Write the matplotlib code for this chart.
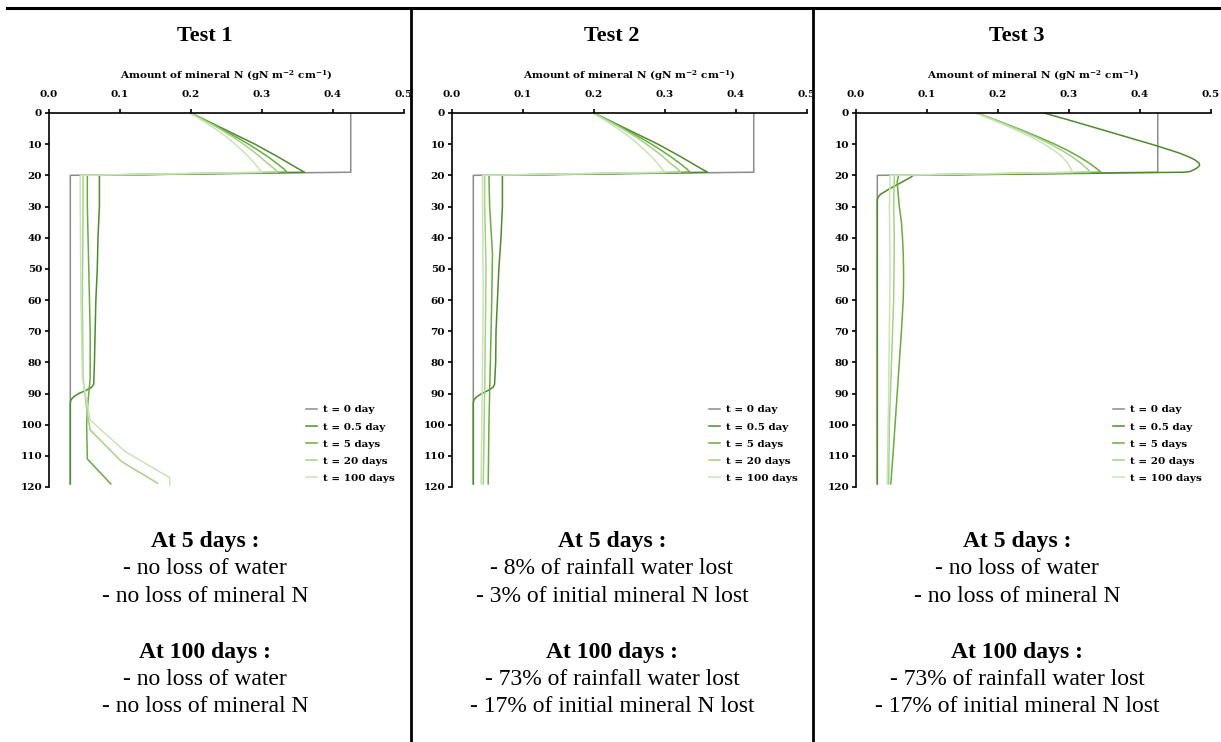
import numpy as np
import matplotlib
matplotlib.use('Agg')
import matplotlib.pyplot as plt
from matplotlib.lines import Line2D
from matplotlib.transforms import Bbox, TransformedBbox

plt.rcParams['font.family'] = ['Liberation Serif', 'DejaVu Serif']
plt.rcParams['mathtext.fontset'] = 'custom'
plt.rcParams['mathtext.rm'] = 'DejaVu Serif:bold'
plt.rcParams['mathtext.it'] = 'DejaVu Serif:bold'
plt.rcParams['mathtext.bf'] = 'DejaVu Serif:bold'

# ---- data (depth in cm, amount in gN m-2 cm-1) ----
labels = ['t = 0 day', 't = 0.5 day', 't = 5 days', 't = 20 days', 't = 100 days']
colors = ['#8c8c8c', '#4f8a2f', '#6aab40', '#a6d189', '#c9e4b7']

t0_depth = [0, 19, 20, 119]
t0_value = [0.425, 0.425, 0.03, 0.03]

top_depth = [0, 2, 4, 6, 8, 10, 12, 14, 16, 18, 19]
# tests 1 and 2: top layer
top_05 = [0.200, 0.218, 0.236, 0.254, 0.272, 0.290, 0.306, 0.322, 0.337, 0.352, 0.360]
top_5 = [0.200, 0.217, 0.234, 0.250, 0.266, 0.281, 0.295, 0.308, 0.320, 0.331, 0.335]
top_20 = [0.200, 0.216, 0.232, 0.247, 0.261, 0.274, 0.286, 0.297, 0.307, 0.318, 0.322]
top_100 = [0.198, 0.213, 0.227, 0.240, 0.252, 0.262, 0.272, 0.281, 0.289, 0.296, 0.300]

# test 1: lower layer
t1_05_depth = [20, 30, 40, 50, 60, 70, 80, 87, 88, 89, 90, 91, 92, 93, 119]
t1_05_value = [0.071, 0.071, 0.069, 0.068, 0.066, 0.065, 0.064, 0.063, 0.060, 0.052,
               0.042, 0.035, 0.031, 0.030, 0.030]
t1_5_depth = [20, 30, 50, 70, 85, 90, 95, 100, 111, 119]
t1_5_value = [0.054, 0.054, 0.056, 0.058, 0.058, 0.056, 0.054, 0.053, 0.054, 0.087]
t1_20_depth = [20, 30, 60, 85, 95, 101.7, 111.8, 118.8]
t1_20_value = [0.048, 0.048, 0.047, 0.048, 0.053, 0.058, 0.102, 0.153]
t1_100_depth = [20, 30, 60, 85, 98.5, 108.6, 113.4, 117, 119.4]
t1_100_value = [0.044, 0.044, 0.045, 0.047, 0.058, 0.107, 0.143, 0.170, 0.170]

# test 2: lower layer
t2_05_depth = [20, 30, 40, 50, 60, 70, 80, 87, 88, 89, 90, 91, 92, 93, 119]
t2_05_value = [0.071, 0.071, 0.069, 0.066, 0.064, 0.062, 0.0615, 0.060, 0.058, 0.051,
               0.042, 0.035, 0.031, 0.030, 0.030]
t2_5_depth = [20, 30, 45, 60, 80, 100, 119]
t2_5_value = [0.052, 0.053, 0.057, 0.056, 0.054, 0.052, 0.051]
t2_20_depth = [20, 30, 50, 90, 119]
t2_20_value = [0.046, 0.046, 0.048, 0.046, 0.044]
t2_100_depth = [20, 30, 60, 119]
t2_100_value = [0.043, 0.043, 0.044, 0.041]

# test 3: top layer
t3_05_top_depth = [0, 1, 2, 3, 4, 5, 6, 7, 8, 9, 10, 11, 12, 13, 14, 15, 16, 16.8,
                   17.5, 18.2, 18.8, 19]
t3_05_top_value = [0.265, 0.280, 0.296, 0.311, 0.326, 0.341, 0.356, 0.371, 0.386, 0.401,
                   0.416, 0.430, 0.444, 0.457, 0.468, 0.477, 0.483, 0.484, 0.481, 0.476,
                   0.470, 0.462]
t3_top_5 = [0.170, 0.194, 0.217, 0.239, 0.260, 0.280, 0.298, 0.314, 0.328, 0.340, 0.345]
t3_top_20 = [0.170, 0.193, 0.215, 0.236, 0.256, 0.274, 0.290, 0.304, 0.316, 0.326, 0.330]
t3_top_100 = [0.168, 0.190, 0.211, 0.231, 0.249, 0.265, 0.279, 0.290, 0.298, 0.303, 0.305]

# test 3: lower layer
t3_05_depth = [20, 20.5, 21.5, 23, 24.5, 26, 27, 28, 119]
t3_05_value = [0.080, 0.078, 0.070, 0.058, 0.046, 0.035, 0.031, 0.030, 0.030]
t3_5_depth = [20, 22, 25, 30, 35, 40, 45, 50, 55, 60, 70, 80, 90, 100, 110, 119]
t3_5_value = [0.060, 0.058, 0.059, 0.061, 0.064, 0.0655, 0.0665, 0.067, 0.067, 0.0665,
              0.064, 0.061, 0.058, 0.055, 0.052, 0.049]
t3_20_depth = [20, 30, 40, 60, 80, 100, 119]
t3_20_value = [0.054, 0.053, 0.054, 0.053, 0.050, 0.047, 0.046]
t3_100_depth = [20, 30, 50, 70, 90, 119]
t3_100_value = [0.048, 0.047, 0.048, 0.047, 0.046, 0.044]

titles = ['Test 1', 'Test 2', 'Test 3']
notes = [
    ['- no loss of water', '- no loss of mineral N', '- no loss of water', '- no loss of mineral N'],
    ['- 8% of rainfall water lost', '- 3% of initial mineral N lost',
     '- 73% of rainfall water lost', '- 17% of initial mineral N lost'],
    ['- no loss of water', '- no loss of mineral N',
     '- 73% of rainfall water lost', '- 17% of initial mineral N lost'],
]

# series per test: (depth, value) for t = 0.5, 5, 20, 100 days
series = [
    [(top_depth + t1_05_depth, top_05 + t1_05_value),
     (top_depth + t1_5_depth, top_5 + t1_5_value),
     (top_depth + t1_20_depth, top_20 + t1_20_value),
     (top_depth + t1_100_depth, top_100 + t1_100_value)],
    [(top_depth + t2_05_depth, top_05 + t2_05_value),
     (top_depth + t2_5_depth, top_5 + t2_5_value),
     (top_depth + t2_20_depth, top_20 + t2_20_value),
     (top_depth + t2_100_depth, top_100 + t2_100_value)],
    [(t3_05_top_depth + t3_05_depth, t3_05_top_value + t3_05_value),
     (top_depth + t3_5_depth, t3_top_5 + t3_5_value),
     (top_depth + t3_20_depth, t3_top_20 + t3_20_value),
     (top_depth + t3_100_depth, t3_top_100 + t3_100_value)],
]

# ---- layout ----
W, H = 1221, 742
fx = lambda px: px / W
fy = lambda py: 1 - py / H

fig = plt.figure(figsize=(W / 100, H / 100), dpi=100)

small = {'family': 'DejaVu Serif', 'weight': 'bold', 'size': 7.5}

ax_left = [49, 452, 856]
centers = [205, 612, 1017]
panels = [(0, 410), (412, 812), (814, 1221)]
ax_top, ax_bot, ax_w = 113, 487, 355

for i in range(3):
    ax = fig.add_axes([fx(ax_left[i]), fy(ax_bot), ax_w / W, (ax_bot - ax_top) / H])
    ax.plot(t0_value, t0_depth, color=colors[0], lw=1.1)
    for k, (d, v) in enumerate(series[i]):
        ax.plot(v, d, color=colors[k + 1], lw=1.1)

    ax.set_xlim(0, 0.5)
    ax.set_ylim(120, 0)
    ax.spines['right'].set_visible(False)
    ax.spines['bottom'].set_visible(False)
    for s in ['top', 'left']:
        ax.spines[s].set_linewidth(1.2)
    ax.xaxis.tick_top()
    ax.xaxis.set_label_position('top')
    xt = np.arange(0, 0.51, 0.1)
    ax.set_xticks(xt)
    ax.set_xticklabels(['%.1f' % x for x in xt], fontdict=small)
    yt = np.arange(0, 121, 10)
    ax.set_yticks(yt)
    ax.set_yticklabels([str(y) for y in yt], fontdict=small)
    ax.tick_params(axis='x', direction='out', length=3, width=1.2, pad=7)
    ax.tick_params(axis='y', direction='out', length=3, width=1.2, pad=2)
    ax.set_xlabel('Amount of mineral N (gN m$^{-2}$ cm$^{-1}$)', fontdict=small, labelpad=8)

    clip = TransformedBbox(Bbox.from_extents(fx(panels[i][0]), 0, fx(panels[i][1]), 1),
                           fig.transFigure)
    for t in ax.xaxis.get_major_ticks():
        for lbl in (t.label1, t.label2):
            lbl.set_clip_box(clip)
            lbl.set_clip_on(True)

    handles = [Line2D([], [], color=c, lw=1.1) for c in colors]
    ax.legend(handles, labels, prop=small, frameon=False,
              loc='lower right', bbox_to_anchor=(0.985, 0.0), borderaxespad=0,
              handlelength=1.0, handletextpad=0.6, labelspacing=0.75)

    fig.text(fx(centers[i]), fy(41), titles[i], ha='center', va='baseline',
             fontsize=16, fontweight='bold')
    fig.text(fx(centers[i]), fy(547), 'At 5 days :', ha='center', va='baseline',
             fontsize=17, fontweight='bold')
    fig.text(fx(centers[i]), fy(574), notes[i][0], ha='center', va='baseline', fontsize=17)
    fig.text(fx(centers[i]), fy(601.5), notes[i][1], ha='center', va='baseline', fontsize=17)
    fig.text(fx(centers[i]), fy(658), 'At 100 days :', ha='center', va='baseline',
             fontsize=17, fontweight='bold')
    fig.text(fx(centers[i]), fy(685), notes[i][2], ha='center', va='baseline', fontsize=17)
    fig.text(fx(centers[i]), fy(711.5), notes[i][3], ha='center', va='baseline', fontsize=17)

# frame lines
fig.add_artist(Line2D([fx(7), 1], [fy(8), fy(8)], color='black', lw=2.2,
                      transform=fig.transFigure))
for x in [411, 813]:
    fig.add_artist(Line2D([fx(x), fx(x)], [0, fy(8)], color='black', lw=2,
                          transform=fig.transFigure))

fig.savefig('out.png', dpi=100)
